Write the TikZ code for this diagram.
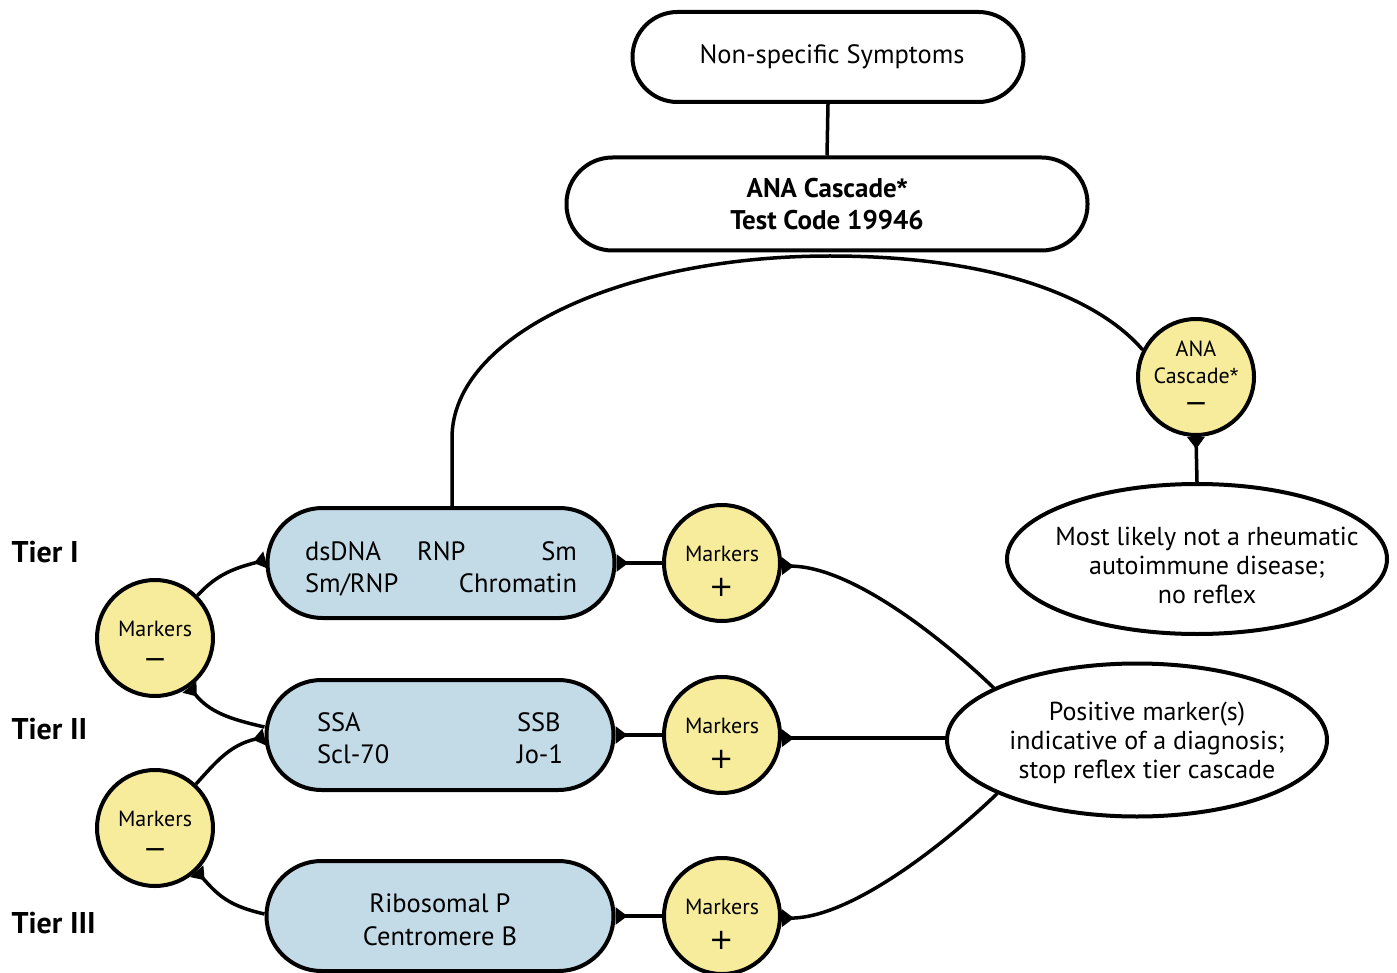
\documentclass[tikz,border=0pt]{standalone}
\usepackage{fontspec}
\setmainfont{PT Sans}
\newfontfamily\symfont{DejaVu Sans}
\newfontfamily\astfont{Liberation Sans}
\usetikzlibrary{arrows.meta,shapes.geometric,calc}
\definecolor{markyellow}{RGB}{247,236,155}
\definecolor{boxblue}{RGB}{195,219,231}
\newcommand{\plussign}{{\symfont\fontsize{29}{29}\selectfont +}}
\newcommand{\minussign}{{\symfont\fontsize{28}{28}\selectfont −}}
\newcommand{\myast}{{\astfont *}}
\begin{document}
\begin{tikzpicture}[x=1pt,y=-1pt,
  pill/.style={draw, line width=4pt, fill=white, align=center},
  tierbox/.style={draw, line width=4pt, fill=boxblue, rounded corners=55pt, minimum width=347pt, minimum height=110pt, inner sep=0pt},
  tiertext/.style={inner sep=0pt, font=\fontsize{26.5}{32.5}\selectfont},
  marker/.style={circle, draw, line width=4pt, fill=markyellow, minimum size=116pt, inner sep=0pt},
  marktext/.style={inner sep=0pt, align=center, font=\fontsize{22}{27}\selectfont},
  outcome/.style={ellipse, draw, line width=4pt, fill=white, minimum width=380pt, inner sep=0pt},
  outtext/.style={inner sep=0pt, align=center, font=\fontsize{26}{29}\selectfont},
  tierlabel/.style={anchor=west, font=\fontsize{30}{32}\selectfont\bfseries},
  conn/.style={line width=3.5pt},
  flare/.style={conn, {Triangle[reversed,length=12pt,width=17pt]}-}
]
\useasboundingbox (0,0) rectangle (1397,973);

% top boxes
\node[pill, rounded corners=45pt, minimum width=391pt, minimum height=90pt, font=\fontsize{26.5}{30}\selectfont] (sym) at (828,57) {\hspace*{8pt}Non-specific Symptoms};
\node[pill, rounded corners=46pt, minimum width=521pt, minimum height=93pt, font=\fontsize{27}{32}\selectfont\bfseries] (ana) at (827,204) {ANA Cascade\myast\\Test Code 19946};

% ANA negative and outcomes
\node[marker] (anaNeg) at (1196,377) {};
\node[marktext] (anaNegText) at ($(anaNeg)+(0,0)$) {ANA\\Cascade\myast\\[2pt]\minussign};
\node[outcome, minimum height=150pt] (noDis) at (1197,559) {};
\node[outtext] (noDisText) at ($(noDis)+(10,6)$) {Most likely not a rheumatic\\autoimmune disease;\\no reflex};
\node[outcome, minimum height=153pt] (posEll) at (1137,740) {};
\node[outtext] (posText) at ($(posEll)+(10,3)$) {Positive marker(s)\\indicative of a diagnosis;\\stop reflex tier cascade};

% tier boxes
\node[tierbox] (t1) at (441,563) {};
\node[tiertext, text width=272pt, align=left] (t1Text) at ($(t1)+(0,6)$) {dsDNA\hspace{36pt}RNP\hfill Sm\\Sm/RNP\hfill Chromatin};
\node[tierbox] (t2) at (440,735) {};
\node[tiertext, align=left] (t2Text) at ($(t2)+(0,3)$) {\makebox[200pt][l]{SSA}SSB\\\makebox[200pt][l]{Scl-70}Jo-1};
\node[tierbox] (t3) at (440,916) {};
\node[tiertext, align=center] (t3Text) at ($(t3)+(0,4)$) {Ribosomal P\\Centromere B};

% markers
\node[marker] (p1) at (722,563) {};
\node[marktext] (p1Text) at ($(p1)+(0,8.5)$) {Markers\\[8pt]\plussign};
\node[marker] (p2) at (722,735) {};
\node[marktext] (p2Text) at ($(p2)+(0,8.5)$) {Markers\\[8pt]\plussign};
\node[marker] (p3) at (722,916) {};
\node[marktext] (p3Text) at ($(p3)+(0,8.5)$) {Markers\\[8pt]\plussign};
\node[marker] (m1) at (155,638) {};
\node[marktext] (m1Text) at ($(m1)+(0,7)$) {Markers\\[5pt]\minussign};
\node[marker] (m2) at (155,828) {};
\node[marktext] (m2Text) at ($(m2)+(0,7)$) {Markers\\[5pt]\minussign};

% tier labels
\node[tierlabel] (tI) at (8,552) {Tier I};
\node[tierlabel] (tII) at (8,729) {Tier II};
\node[tierlabel] (tIII) at (8,923) {Tier III};

% connectors
\draw[conn] (sym.south) -- (ana.north);
\draw[conn] ($(t1.north)+(11,0)$) -- ++(0,-68)
   .. controls +(0,-102) and (621,256) .. (830,256)
   .. controls (1000,256) and (1100,300) .. (anaNeg.153);
\draw[flare] (anaNeg.south) -- (noDis.north);

\draw[flare] (t1.east) -- (p1.west);
\draw[flare] (t2.east) -- (p2.west);
\draw[flare] (t3.east) -- (p3.west);

\draw[flare] (p1.-3) .. controls +(70,0) and +(-50,-48) .. (posEll.160);
\draw[flare] (p2.-3) -- (p2.-3 -| posEll.west);
\draw[flare] (p3.-2) .. controls +(70,0) and +(-50,48) .. (posEll.201);

\draw[flare] ($(t1.west)+(0,-3)$) .. controls +(-30,8) and +(20,-22) .. (m1.45);
\draw[flare] (m1.-55) .. controls +(20,25) and +(-35,-8) .. ($(t2.west)+(0,-8)$);
\draw[flare] ($(t2.west)+(0,2)$) .. controls +(-35,8) and +(20,-22) .. (m2.47);
\draw[flare] (m2.-46) .. controls +(22,25) and +(-35,-8) .. ($(t3.west)+(0,-2)$);
\end{tikzpicture}
\end{document}
